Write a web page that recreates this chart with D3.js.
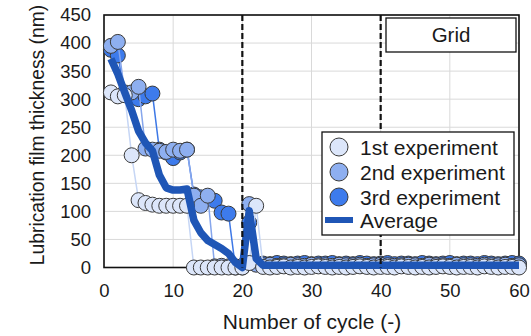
<!DOCTYPE html>
<html><head><meta charset="utf-8">
<script src="https://cdn.jsdelivr.net/npm/d3@7"></script>
<style>body{margin:0;background:#fff}svg{display:block}text{font-family:"Liberation Sans",Arial,sans-serif;fill:#1a1a1a}</style>
</head><body><svg id="c" width="531" height="336"></svg>
<script>
const cycles = d3.range(1, 61);
const exp1 = [312,305,307,200,120,115,112,110,110,110,110,110,0,0,0,0,0,0,0,0,8,110,
  1,0,1,2,0,1,0,1,2,1,0,1,0,1,2,1,0,1,1,0,2,1,0,1,0,1,2,1,0,1,1,0,2,1,0,1,1,0];
const exp2 = [395,402,312,312,322,212,210,208,206,210,208,210,128,110,128,2,3,2,2,3,113,5,
  4,5,3,4,5,4,3,5,4,4,3,5,4,4,5,3,4,5,4,3,4,5,4,3,5,4,4,3,5,4,4,3,5,4,4,5,3,4];
const exp3 = [388,378,310,305,300,305,310,210,205,195,205,210,130,125,122,119,98,96,0,0,80,6,
  7,6,8,7,6,7,8,6,7,7,8,6,7,6,8,7,6,7,8,6,7,7,6,8,7,6,7,8,6,7,7,6,8,7,6,7,8,7];
const average = [372,345,312,280,243,222,208,165,142,138,138,140,84,62,48,41,34,25,9,0,101,16,
  4,4,4,4,4,4,4,4,4,4,4,4,4,4,4,4,4,4,4,4,4,4,4,4,4,4,4,4,4,4,4,4,4,4,4,4,4,4];
const seriesNames = ["1st experiment","2nd experiment","3rd experiment","Average"];
const xTicks = [0,10,20,30,40,50,60];
const yTicks = [0,50,100,150,200,250,300,350,400,450];
const dashedAt = [20,40];

const svg = d3.select("#c");
const x = d3.scaleLinear().domain([0,60]).range([104,519]);
const y = d3.scaleLinear().domain([0,450]).range([267.5,15]);

// grid
svg.append("g").selectAll("line").data(yTicks).join("line")
  .attr("x1",x(0)).attr("x2",x(60)).attr("y1",d=>y(d)).attr("y2",d=>y(d))
  .attr("stroke","#d9d9d9").attr("stroke-width",1);
svg.append("g").selectAll("line").data(xTicks).join("line")
  .attr("y1",y(0)).attr("y2",y(450)).attr("x1",d=>x(d)).attr("x2",d=>x(d))
  .attr("stroke","#d9d9d9").attr("stroke-width",1);
// frame
svg.append("rect").attr("x",x(0)).attr("y",y(450)).attr("width",x(60)-x(0)).attr("height",y(0)-y(450))
  .attr("fill","none").attr("stroke","#111").attr("stroke-width",1.6);

// axes tick labels
const yAxis = d3.axisLeft(y).tickValues(yTicks).tickSize(0).tickPadding(13);
const gy = svg.append("g").attr("transform",`translate(${x(0)},0)`).call(yAxis);
gy.select(".domain").remove();
gy.selectAll("text").attr("font-size",18.5).style("font-family","Liberation Sans, Arial, sans-serif").attr("fill","#1a1a1a");
const xAxis = d3.axisBottom(x).tickValues(xTicks).tickSize(0).tickPadding(16);
const gx = svg.append("g").attr("transform",`translate(0,${y(0)})`).call(xAxis);
gx.select(".domain").remove();
gx.selectAll("text").attr("font-size",18.5).style("font-family","Liberation Sans, Arial, sans-serif").attr("fill","#1a1a1a");

// axis titles
svg.append("text").attr("x",312).attr("y",329).attr("text-anchor","middle").attr("font-size",21).text("Number of cycle (-)");
svg.append("text").attr("transform","translate(44,135) rotate(-90)").attr("text-anchor","middle").attr("font-size",19.3).text("Lubrication film thickness (nm)");

// series
const exps = [
  {vals:exp3, fill:"#3d7bec", line:"#3d78e6"},
  {vals:exp2, fill:"#8eaff0", line:"#86a6ec"},
  {vals:exp1, fill:"#dce6fa", line:"#c6d6f5"}
];
const line = d3.line().x(d=>x(d[0])).y(d=>y(d[1]));
exps.forEach(s=>{
  const pts = cycles.map((c,i)=>[c,s.vals[i]]);
  svg.append("path").datum(pts).attr("d",line).attr("fill","none").attr("stroke",s.line).attr("stroke-width",1.5);
  svg.append("g").selectAll("circle").data(pts).join("circle")
    .attr("cx",d=>x(d[0])).attr("cy",d=>y(d[1])).attr("r",7.5)
    .attr("fill",s.fill).attr("stroke","#3a3a3a").attr("stroke-width",1);
});
svg.append("path").datum(cycles.map((c,i)=>[c,average[i]])).attr("d",line)
  .attr("fill","none").attr("stroke","#1f56b6").attr("stroke-width",7.5).attr("stroke-linejoin","round");

// dashed lines
svg.append("g").selectAll("line").data(dashedAt).join("line")
  .attr("x1",d=>x(d)).attr("x2",d=>x(d)).attr("y1",y(450)).attr("y2",y(0))
  .attr("stroke","#111").attr("stroke-width",2.2).attr("stroke-dasharray","6,3");

// Grid label box
svg.append("rect").attr("x",386).attr("y",18).attr("width",130).attr("height",34).attr("fill","#fff").attr("stroke","#111").attr("stroke-width",1.3);
svg.append("text").attr("x",451).attr("y",42).attr("text-anchor","middle").attr("font-size",20.5).text("Grid");

// legend
svg.append("rect").attr("x",322).attr("y",132).attr("width",192).attr("height",103).attr("fill","#fff").attr("stroke","#111").attr("stroke-width",1.3);
const legRows = [
  {name:seriesNames[0], fill:"#dce6fa", y:147},
  {name:seriesNames[1], fill:"#8eaff0", y:172},
  {name:seriesNames[2], fill:"#3d7bec", y:197},
  {name:seriesNames[3], fill:null, y:220}
];
legRows.forEach(r=>{
  if(r.fill){
    svg.append("circle").attr("cx",339).attr("cy",r.y).attr("r",9).attr("fill",r.fill).attr("stroke","#3a3a3a").attr("stroke-width",1);
  } else {
    svg.append("line").attr("x1",325).attr("x2",353).attr("y1",r.y).attr("y2",r.y).attr("stroke","#1f56b6").attr("stroke-width",6);
  }
  svg.append("text").attr("x",360).attr("y",r.y+7.5).attr("font-size",21).text(r.name);
});
</script></body></html>
